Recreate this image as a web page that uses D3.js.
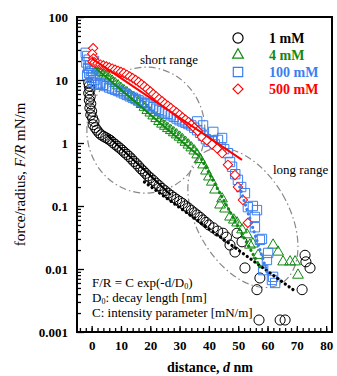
<!DOCTYPE html>
<html>
<head>
<meta charset="utf-8">
<script src="https://cdn.jsdelivr.net/npm/d3@7"></script>
<style>
  body { margin: 0; background: #fff; }
  svg { display: block; }
  text { font-family: "Liberation Serif", "Times New Roman", serif; }
</style>
</head>
<body>
<div id="chart"></div>
<script>
// Tick values and labels
var xTicks = [0, 10, 20, 30, 40, 50, 60, 70, 80];
var yTicks = [0.001, 0.01, 0.1, 1, 10, 100];
var yTickLabels = ["0.001", "0.01", "0.1", "1", "10", "100"];

var seriesNames = ["1 mM", "4 mM", "100 mM", "500 mM"];
var seriesColors = ["#000000", "#118a11", "#3a7ff0", "#ff0000"];

// 1 mM (circles)
var dist1 = [-1, -0.8, -0.6, -1, -0.5, -0.8, -0.3, -0.6, 0, -0.3, 0.3, 0.8, 0.5, 1.2, 1.8, 2.5, 3.2, 4, 4.8, 5.6,
  6.4, 7.2, 8, 8.8, 9.6, 10.4, 11.2, 12, 12.8, 13.6, 14.4, 15.2, 16, 16.8, 17.6, 18.4, 19.2, 20, 21, 22,
  23, 24, 25, 26, 27, 28, 29, 30, 31, 32, 33, 34, 35, 36, 37, 38, 39, 40, 41.5, 43,
  44.8, 46, 47.2, 48.9, 49.6, 51.3, 52.3, 56.4, 57.4, 57.1, 64.3, 66, 71.8, 72.8, 73.1, 74.5];
var force1 = [9, 8, 7, 6.2, 5.5, 4.8, 4.2, 3.6, 3.2, 2.8, 2.5, 2.2, 1.95, 1.75, 1.6, 1.45, 1.35, 1.28, 1.22, 1.16,
  1.1, 1.02, 0.95, 0.89, 0.83, 0.77, 0.71, 0.66, 0.61, 0.56, 0.51, 0.47, 0.43, 0.39, 0.36, 0.33, 0.3, 0.28, 0.255, 0.23,
  0.21, 0.19, 0.175, 0.16, 0.148, 0.137, 0.127, 0.118, 0.11, 0.1, 0.093, 0.085, 0.078, 0.072, 0.066, 0.06, 0.055, 0.05, 0.045, 0.04,
  0.037, 0.032, 0.024, 0.0186, 0.037, 0.027, 0.0104, 0.0047, 0.0072, 0.00155, 0.00155, 0.00155, 0.0047, 0.0165, 0.013, 0.0104];

// 4 mM (triangles)
var dist2 = [1, 1.8, 2.6, 3.4, 4.2, 5, 6, 7, 8, 9, 10, 11, 12, 13, 14, 15, 16, 17, 18, 19,
  20, 21, 22, 23, 24, 25, 26, 27, 28, 29, 30, 31, 32, 33, 34, 35, 36, 37, 38, 39,
  40, 41, 42.1, 43.8, 44.5, 45.5, 47.2, 48.5, 49.6, 51.3, 53, 54, 55, 56.8,
  61.9, 63.6, 65.3, 67.7, 69.4, 70.4];
var force2 = [17, 15, 14, 13.2, 12.5, 11.6, 10.6, 9.6, 8.8, 8.1, 7.4, 6.8, 6.3, 5.8, 5.3, 4.9, 4.5, 4.1, 3.7, 3.3,
  3.0, 2.7, 2.45, 2.2, 2.0, 1.85, 1.7, 1.58, 1.46, 1.35, 1.24, 1.13, 1.03, 0.93, 0.84, 0.75, 0.65, 0.55, 0.45, 0.36,
  0.29, 0.24, 0.18, 0.104, 0.13, 0.09, 0.067, 0.06, 0.054, 0.042, 0.035, 0.024, 0.025, 0.0165,
  0.024, 0.0186, 0.013, 0.013, 0.013, 0.008];

// 100 mM (squares)
var dist3 = [-2, -1.5, -1, -1.8, -0.5, -1.2, 0, -0.8, 0.5, -0.3, 1, 0.2, 1.5, 2.2, -1.5, 0.8,
  3, 4, 5, 6, 7, 8, 9, 10, 11, 12, 13, 14, 15, 16, 17, 18, 19, 20, 21, 22,
  23, 24, 25, 26, 27, 28, 29, 30, 31, 32, 33, 34, 35, 36, 37, 38, 39, 40, 41, 42,
  36, 38, 41.5, 43.1, 44, 44.5, 45.2, 46.5, 47.2, 47.9, 49, 49.9, 51, 52.3, 53.3, 55, 55.7, 56.4, 55.7,
  57.4, 58.1, 58.5, 59.8, 60.2, 61.5, 61.9, 62.6];
var force3 = [27, 24, 21, 19, 17, 15.5, 14, 12.8, 11.8, 10.8, 10, 9.3, 8.8, 8.4, 12, 20,
  8.8, 8.4, 8.0, 7.6, 7.3, 7.0, 6.7, 6.4, 6.1, 5.8, 5.5, 5.25, 5.0, 4.75, 4.5, 4.3, 4.1, 3.9, 3.7, 3.5,
  3.35, 3.2, 3.05, 2.9, 2.75, 2.6, 2.45, 2.3, 2.2, 2.1, 2.0, 1.9, 1.75, 1.6, 1.45, 1.3, 1.15, 1.05, 1.1, 0.95,
  2.2, 1.9, 1.5, 1.12, 0.85, 1.2, 0.8, 0.69, 0.5, 0.42, 0.32, 0.26, 0.2, 0.16, 0.096, 0.1, 0.067, 0.086, 0.046,
  0.029, 0.03, 0.0096, 0.0139, 0.018, 0.0067, 0.0075, 0.006];

// 500 mM (diamonds)
var dist4 = [0.5, 0.2, 0.6, 0.3, 1, 2, 3, 4, 5, 6, 7, 8, 9, 10, 11, 12, 13, 14, 15, 16,
  17, 18, 19, 20, 21, 22, 23, 24, 25, 26, 27, 28, 29, 30, 31, 32, 33, 34, 35,
  36.2, 37.6, 39.3, 41.1, 42.8, 44.5, 46.5, 48.9, 49.9, 51.6, 53.3];
var force4 = [32, 26, 22, 19.5, 19, 18.3, 17.6, 17, 16.4, 15.8, 15.2, 14.6, 14, 13.4, 12.8, 12.1, 11.4, 10.7, 10, 9.3,
  8.6, 7.9, 7.2, 6.6, 6.0, 5.5, 5.0, 4.6, 4.2, 3.9, 3.6, 3.3, 3.05, 2.8, 2.55, 2.35, 2.15, 1.95, 1.75,
  1.55, 1.25, 1.1, 0.95, 0.82, 0.69, 0.45, 0.31, 0.2, 0.125, 0.054];

// Exponential fits F/R = C exp(-d/D0), straight lines on the log axis (end points)
var shortFitD1 = [5.2, 27],   shortFitF1 = [1.34, 0.15];
var longFitD1  = [18, 68.7],  longFitF1  = [0.24, 0.0047];
var shortFitD2 = [1, 37],     shortFitF2 = [16, 0.6];
var longFitD2  = [37.5, 57.4], longFitF2 = [0.55, 0.0108];
var longFitD3  = [50.5, 60],  longFitF3  = [0.2, 0.0085];
var shortFitD4 = [0, 51.3],   shortFitF4 = [22, 0.54];

// Set the dimensions and margins of the graph
var margin = {top: 17, right: 5, bottom: 44, left: 77},
    width = 337 - margin.left - margin.right,
    height = 376 - margin.top - margin.bottom;

var svg = d3.select("#chart")
  .append("svg")
    .attr("width", width + margin.left + margin.right)
    .attr("height", height + margin.top + margin.bottom)
  .append("g")
    .attr("transform", "translate(" + margin.left + "," + margin.top + ")");

var x = d3.scaleLinear().domain([-5, 82]).range([0, width]);
var y = d3.scaleLog().domain([0.001, 100]).range([height, 0]);

// Range ellipses (dash-dot)
var ellipses = [
  {d: 18.5, f: 1.6, rx: 59, ry: 63, rot: 0},
  {d: 51.6, f: 0.065, rx: 46, ry: 76, rot: -30}
];
svg.selectAll(".range")
  .data(ellipses)
  .enter()
  .append("ellipse")
    .attr("class", "range")
    .attr("transform", function(e) { return "translate(" + x(e.d) + "," + y(e.f) + ") rotate(" + e.rot + ")"; })
    .attr("rx", function(e) { return e.rx; })
    .attr("ry", function(e) { return e.ry; })
    .attr("fill", "none")
    .attr("stroke", "#888")
    .attr("stroke-width", 1.2)
    .attr("stroke-dasharray", "7,3,1.5,3");

// Axes with inward ticks
svg.append("g")
  .call(d3.axisLeft(y).tickValues(yTicks).tickSize(-7).tickPadding(9)
    .tickFormat(function(d, i) { return yTickLabels[i]; }));
svg.append("g")
  .call(d3.axisLeft(y).tickValues(y.ticks().filter(function(t) { return yTicks.indexOf(t) < 0; }))
    .tickSize(-4).tickFormat(""));
svg.append("g")
  .attr("transform", "translate(0," + height + ")")
  .call(d3.axisBottom(x).tickValues(xTicks).tickSize(-6).tickPadding(9));
svg.append("g")
  .attr("transform", "translate(0," + height + ")")
  .call(d3.axisBottom(x).tickValues(d3.range(-4, 82, 2)).tickSize(-4).tickFormat(""));

svg.selectAll(".domain").remove();
svg.selectAll(".tick line").attr("stroke", "#000").attr("stroke-width", 1.3);
svg.selectAll(".tick text")
  .attr("font-family", "Liberation Serif, serif")
  .attr("font-size", 13)
  .attr("font-weight", "bold")
  .attr("fill", "#000");

// Frame
svg.append("rect")
  .attr("width", width)
  .attr("height", height)
  .attr("fill", "none")
  .attr("stroke", "#000")
  .attr("stroke-width", 2);

// Markers
var series = [
  {d: dist1, f: force1, type: d3.symbolCircle, size: 80, rot: 0, fill: "none"},
  {d: dist2, f: force2, type: d3.symbolTriangle, size: 50, rot: 0, fill: "none"},
  {d: dist3, f: force3, type: d3.symbolSquare, size: 88, rot: 0, fill: "none"},
  {d: dist4, f: force4, type: d3.symbolSquare, size: 44, rot: 45, fill: "#fff"}
];

series.forEach(function(s, k) {
  var pts = s.d.map(function(d, i) { return [d, s.f[i]]; });
  svg.append("g")
    .selectAll("path")
    .data(pts)
    .enter()
    .append("path")
      .attr("d", d3.symbol().type(s.type).size(s.size))
      .attr("transform", function(p) { return "translate(" + x(p[0]) + "," + y(p[1]) + ") rotate(" + s.rot + ")"; })
      .attr("fill", s.fill)
      .attr("stroke", seriesColors[k])
      .attr("stroke-width", 1);
});

// Fit lines
var line = d3.line()
  .x(function(p) { return x(p[0]); })
  .y(function(p) { return y(p[1]); });

var fits = [
  {d: shortFitD1, f: shortFitF1, c: 0, dotted: false},
  {d: longFitD1, f: longFitF1, c: 0, dotted: true},
  {d: shortFitD2, f: shortFitF2, c: 1, dotted: false},
  {d: longFitD2, f: longFitF2, c: 1, dotted: true},
  {d: longFitD3, f: longFitF3, c: 2, dotted: true},
  {d: shortFitD4, f: shortFitF4, c: 3, dotted: false}
];
fits.forEach(function(l) {
  svg.append("path")
    .attr("d", line(l.d.map(function(d, i) { return [d, l.f[i]]; })))
    .attr("fill", "none")
    .attr("stroke", seriesColors[l.c])
    .attr("stroke-width", l.dotted ? 3.2 : 2)
    .attr("stroke-linecap", l.dotted ? "round" : "butt")
    .attr("stroke-dasharray", l.dotted ? "0.1,4.6" : null);
});

// Legend
var legend = svg.append("g").attr("transform", "translate(161,21)");
seriesNames.forEach(function(name, k) {
  var s = series[k];
  legend.append("path")
    .attr("d", d3.symbol().type(s.type).size(k == 3 ? 50 : s.size))
    .attr("transform", "translate(0," + (k * 17) + ") rotate(" + s.rot + ")")
    .attr("fill", "none")
    .attr("stroke", seriesColors[k])
    .attr("stroke-width", 1.2);
  legend.append("text")
    .attr("x", 31)
    .attr("y", k * 17 + 5)
    .attr("font-size", 14)
    .attr("font-weight", "bold")
    .attr("fill", seriesColors[k])
    .text(name);
});

// Annotations
svg.append("text")
  .attr("x", 63).attr("y", 47)
  .attr("font-size", 13)
  .text("short range");
svg.append("text")
  .attr("x", 196).attr("y", 157)
  .attr("font-size", 13)
  .text("long range");

// Formula note, one text per line
var noteLines = svg.append("g").attr("font-size", 13).attr("fill", "#000");
var n1 = noteLines.append("text").attr("x", 15).attr("y", 270);
n1.append("tspan").text("F/R = C exp(-d/D");
n1.append("tspan").attr("dy", 2).attr("font-size", 8).text("0");
n1.append("tspan").attr("dy", -2).text(")");
var n2 = noteLines.append("text").attr("x", 15).attr("y", 285);
n2.append("tspan").text("D");
n2.append("tspan").attr("dy", 2).attr("font-size", 8).text("0");
n2.append("tspan").attr("dy", -2).text(": decay length [nm]");
noteLines.append("text").attr("x", 15).attr("y", 300).text("C: intensity parameter [mN/m]");

// Axis titles
var xTitle = svg.append("text")
  .attr("x", 133).attr("y", height + 40)
  .attr("text-anchor", "middle")
  .attr("font-size", 14)
  .attr("font-weight", "bold");
xTitle.append("tspan").text("distance, ");
xTitle.append("tspan").attr("font-style", "italic").text("d");
xTitle.append("tspan").text(" nm");

var yTitle = svg.append("text")
  .attr("transform", "translate(-52," + (height / 2) + ") rotate(-90)")
  .attr("text-anchor", "middle")
  .attr("font-size", 15);
yTitle.append("tspan").text("force/radius, ");
yTitle.append("tspan").attr("font-style", "italic").text("F/R");
yTitle.append("tspan").text(" mN/m");
</script>
</body>
</html>
